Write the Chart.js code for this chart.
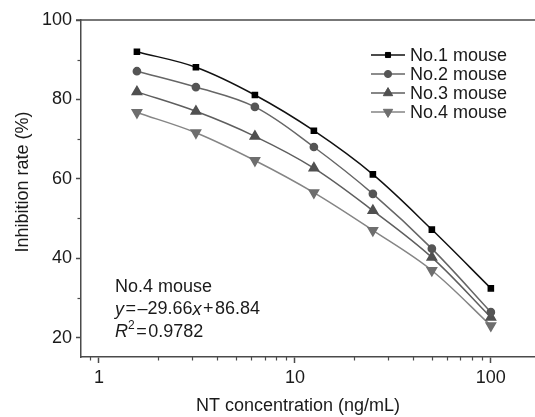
<!DOCTYPE html>
<html>
<head>
<meta charset="utf-8">
<script src="https://cdn.jsdelivr.net/npm/chart.js@4.4.0/dist/chart.umd.min.js"></script>
<style>
  html, body { margin: 0; padding: 0; background: #fff; overflow: hidden; }
  #grafico { display: block; }
</style>
</head>
<body>
<canvas id="grafico" width="535" height="417" style="width:535px;height:417px"></canvas>
<script>
// concentración de NT (ng/mL) y tasa de inhibición (%)
const concentraciones = [1.5625, 3.125, 6.25, 12.5, 25, 50, 100];
const raton1 = [92.0, 88.1, 81.1, 72.1, 61.1, 47.2, 32.4];
const raton2 = [87.1, 83.1, 78.1, 68.0, 56.2, 42.4, 26.4];
const raton3 = [81.9, 77.0, 70.7, 62.7, 52.0, 40.2, 25.1];
const raton4 = [76.7, 71.6, 64.6, 56.5, 47.0, 36.9, 23.0];
const nombres = ["No.1 mouse", "No.2 mouse", "No.3 mouse", "No.4 mouse"];

const ticksX = [1, 10, 100];
const ticksXMenores = [0.9, 2, 3, 4, 5, 6, 7, 8, 9, 20, 30, 40, 50, 60, 70, 80, 90];
const ticksY = [20, 40, 60, 80, 100];
const ticksYMenores = [30, 50, 70, 90];

const FUENTE = '"Liberation Sans", Arial, sans-serif';
const COLOR_EJE = "#4a4a4a";
const COLOR_TEXTO = "#1a1a1a";

function serie(nombre, valores, color, estilo, radio, rotacion, linea) {
  return {
    label: nombre,
    data: concentraciones.map((x, i) => ({ x, y: valores[i] })),
    borderColor: linea,
    backgroundColor: color,
    pointBackgroundColor: color,
    pointBorderColor: color,
    pointStyle: estilo,
    pointRadius: radio,
    pointRotation: rotacion,
    borderWidth: 1.5,
    tension: 0.35
  };
}

const pluginDecoracion = {
  id: "decoracion",
  afterDraw(chart) {
    const ctx = chart.ctx;
    const area = chart.chartArea;
    const x = chart.scales.x;
    const y = chart.scales.y;
    ctx.save();

    // borde superior
    ctx.strokeStyle = COLOR_EJE;
    ctx.lineWidth = 1.5;
    ctx.beginPath();
    ctx.moveTo(area.left - 5, area.top);
    ctx.lineTo(chart.width, area.top);
    ctx.stroke();

    // ticks menores
    ctx.lineWidth = 1.2;
    ticksXMenores.forEach((v) => {
      const px = Math.round(x.getPixelForValue(v)) + 0.5;
      ctx.beginPath();
      ctx.moveTo(px, area.bottom);
      ctx.lineTo(px, area.bottom + 3.5);
      ctx.stroke();
    });
    ticksYMenores.forEach((v) => {
      const py = Math.round(y.getPixelForValue(v)) + 0.5;
      ctx.beginPath();
      ctx.moveTo(area.left, py);
      ctx.lineTo(area.left - 3.5, py);
      ctx.stroke();
    });

    // títulos de ejes
    ctx.fillStyle = COLOR_TEXTO;
    ctx.font = "18px " + FUENTE;
    ctx.textAlign = "center";
    ctx.textBaseline = "middle";
    ctx.fillText("NT concentration (ng/mL)", 298, 406);
    ctx.save();
    ctx.translate(23, 182);
    ctx.rotate(-Math.PI / 2);
    ctx.fillText("Inhibition rate (%)", 0, 0);
    ctx.restore();

    // leyenda
    ctx.textAlign = "left";
    chart.data.datasets.forEach((ds, i) => {
      const ly = 55 + i * 19;
      ctx.strokeStyle = ds.borderColor;
      ctx.lineWidth = 1.5;
      ctx.beginPath();
      ctx.moveTo(371, ly);
      ctx.lineTo(405, ly);
      ctx.stroke();
      ctx.fillStyle = ds.pointBackgroundColor;
      ctx.strokeStyle = ds.pointBorderColor;
      ctx.lineWidth = 1;
      Chart.helpers.drawPoint(ctx, {
        pointStyle: ds.pointStyle,
        radius: ds.pointRadius,
        rotation: ds.pointRotation,
        borderWidth: 1
      }, 388, ly);
      ctx.fillStyle = COLOR_TEXTO;
      ctx.fillText(ds.label, 410, ly + 1);
    });

    // anotación de la regresión
    const partes = [
      [["No.4 mouse", false]],
      [["y", true], ["=", false], ["\u2013", false], ["29.66", false], ["x", true], ["+", false], ["86.84", false]],
      [["R", true], ["2", false, true], ["=", false], ["0.9782", false]]
    ];
    partes.forEach((linea, i) => {
      let px = 115;
      const py = 287 + i * 22.5;
      linea.forEach(([texto, cursiva, sup]) => {
        const hueco = (texto === "=" || texto === "+") ? 1.5 : 0;
        px += hueco;
        ctx.font = (cursiva ? "italic " : "") + (sup ? "12px " : "18px ") + FUENTE;
        ctx.fillText(texto, px, sup ? py - 6 : py);
        px += ctx.measureText(texto).width + hueco;
      });
    });

    ctx.restore();
  }
};

new Chart(document.getElementById("grafico"), {
  type: "line",
  data: {
    datasets: [
      serie(nombres[0], raton1, "#000000", "rect", 3.6, 0, "#111111"),
      serie(nombres[1], raton2, "#555555", "circle", 3.6, 0, "#666666"),
      serie(nombres[2], raton3, "#505050", "triangle", 5.4, 0, "#5e5e5e"),
      serie(nombres[3], raton4, "#6e6e6e", "triangle", 5.4, 180, "#858585")
    ]
  },
  plugins: [pluginDecoracion],
  options: {
    responsive: false,
    animation: false,
    events: [],
    layout: { autoPadding: false, padding: { top: 20, right: 0, left: 0, bottom: 0 } },
    plugins: { legend: { display: false }, tooltip: { enabled: false } },
    scales: {
      x: {
        type: "logarithmic",
        min: 0.81,
        max: 168,
        afterBuildTicks: (escala) => { escala.ticks = ticksX.map((v) => ({ value: v })); },
        afterFit: (escala) => { escala.height = 60; },
        ticks: {
          autoSkip: false,
          maxRotation: 0,
          padding: 4,
          color: COLOR_TEXTO,
          font: { family: FUENTE, size: 18 },
          callback: (v) => String(v)
        },
        grid: { drawOnChartArea: false, drawTicks: true, tickLength: 6, tickColor: COLOR_EJE, tickWidth: 1.5 },
        border: { display: true, color: COLOR_EJE, width: 1.5 }
      },
      y: {
        min: 15.1,
        max: 100,
        afterBuildTicks: (escala) => { escala.ticks = ticksY.map((v) => ({ value: v })); },
        afterFit: (escala) => { escala.width = 81; },
        ticks: {
          padding: 4,
          color: COLOR_TEXTO,
          font: { family: FUENTE, size: 18 }
        },
        grid: { drawOnChartArea: false, drawTicks: true, tickLength: 5, tickColor: COLOR_EJE, tickWidth: 1.5 },
        border: { display: true, color: COLOR_EJE, width: 1.5 }
      }
    }
  }
});
</script>
</body>
</html>
